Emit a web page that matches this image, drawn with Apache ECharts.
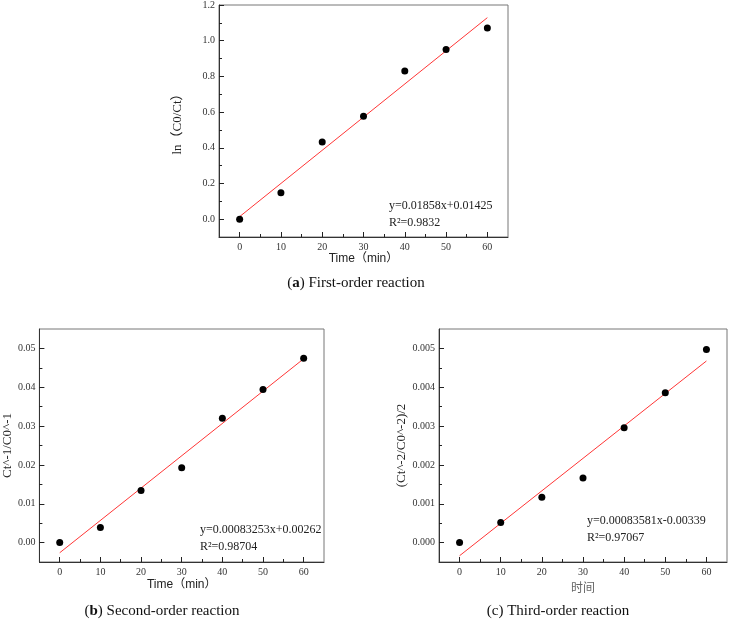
<!DOCTYPE html>
<html>
<head>
<meta charset="utf-8">
<script src="https://cdn.jsdelivr.net/npm/echarts@6/dist/echarts.min.js"></script>
<style>html,body{margin:0;padding:0;background:#fff}#c{width:731px;height:620px}</style>
</head>
<body>
<div id="c"></div>
<script>
// ---- data ----
const timeMin = [0, 10, 20, 30, 40, 50, 60];
const firstOrder = [0.0, 0.148, 0.433, 0.577, 0.830, 0.951, 1.071];
const secondOrder = [0.0, 0.0039, 0.0134, 0.0193, 0.0320, 0.0394, 0.0475];
const thirdOrder = [0.0, 0.000515, 0.00117, 0.00166, 0.00296, 0.00386, 0.00497];
const fitX = [0, 60];
const fitFirst = [0.01425, 1.12905];
const fitSecond = [-0.00262, 0.04733];
const fitThird = [-0.000339, 0.004676];
const xTickLabels = [0, 10, 20, 30, 40, 50, 60];
const yTicksA = [0.0, 0.2, 0.4, 0.6, 0.8, 1.0, 1.2];
const yTicksB = [0.00, 0.01, 0.02, 0.03, 0.04, 0.05];
const yTicksC = [0.000, 0.001, 0.002, 0.003, 0.004, 0.005];
const eqA = ['y=0.01858x+0.01425', 'R²=0.9832'];
const eqB = ['y=0.00083253x+0.00262', 'R²=0.98704'];
const eqC = ['y=0.00083581x-0.00339', 'R²=0.97067'];

const SERIF = 'Liberation Serif, Noto Sans CJK SC';
const SANS = 'Liberation Sans, Noto Sans CJK SC';
const pair = (xs, ys) => xs.map((x, i) => [x, ys[i]]);

function xAxisOf(g, name, gap, nameStyle) {
  return {
    type: 'value', gridIndex: g, min: -5, max: 65, splitNumber: 7, z: 5,
    axisLine: { show: true, onZero: false, lineStyle: { color: '#333', width: 1 } },
    axisTick: { show: true, inside: true, length: 5, customValues: xTickLabels, lineStyle: { color: '#222', width: 1 } },
    minorTick: { show: true, splitNumber: 2, length: 3, lineStyle: { color: '#222', width: 1 } },
    axisLabel: { customValues: xTickLabels, fontFamily: SERIF, fontSize: 10, color: '#333', margin: 5 },
    splitLine: { show: false },
    name: name, nameLocation: 'middle', nameGap: gap, nameTextStyle: nameStyle
  };
}
function yAxisOf(g, min, max, ticks, dec, name, gap) {
  return {
    type: 'value', gridIndex: g, min: min, max: max, splitNumber: 6, z: 5,
    axisLine: { show: true, onZero: false, lineStyle: { color: '#333', width: 1 } },
    axisTick: { show: true, inside: true, length: 5, customValues: ticks, lineStyle: { color: '#222', width: 1 } },
    minorTick: { show: true, splitNumber: 2, length: 3, lineStyle: { color: '#222', width: 1 } },
    axisLabel: { customValues: ticks, fontFamily: SERIF, fontSize: 10, color: '#333', margin: 4,
      formatter: v => Number(v).toFixed(dec) },
    splitLine: { show: false },
    name: name, nameLocation: 'middle', nameGap: gap, nameRotate: 90,
    nameTextStyle: { fontFamily: SERIF, fontSize: 13, color: '#222' }
  };
}
const gridStyle = { show: true, borderColor: '#777', borderWidth: 1 };
const timeName = { fontFamily: SANS, fontSize: 12, color: '#222' };

function scatter(i, data) {
  return { type: 'scatter', xAxisIndex: i, yAxisIndex: i, data: data, symbolSize: 7,
    itemStyle: { color: '#000', opacity: 1 }, z: 3, silent: true };
}
function fit(i, data) {
  return { type: 'line', xAxisIndex: i, yAxisIndex: i, data: data, symbol: 'none',
    lineStyle: { color: '#ff3535', width: 1 }, z: 2, silent: true };
}
function eqText(x, y, lines) {
  return { type: 'text', left: x, top: y, style: { text: lines.join('\n'), fontFamily: SERIF, fontSize: 12,
    lineHeight: 16.5, fill: '#222' } };
}
function caption(cx, cy, letter, bold, rest) {
  return { type: 'text', x: cx, y: cy, style: {
    text: '(' + '{' + (bold ? 'b' : 'n') + '|' + letter + '}) ' + rest,
    fontFamily: SERIF, fontSize: 15, fill: '#111', align: 'center', verticalAlign: 'middle',
    rich: { b: { fontWeight: 'bold', fontFamily: SERIF, fontSize: 15, fill: '#111' },
            n: { fontFamily: SERIF, fontSize: 15, fill: '#111' } } } };
}

const chart = echarts.init(document.getElementById('c'), null, { renderer: 'canvas' });
chart.setOption({
  animation: false,
  grid: [
    Object.assign({ left: 219, top: 5, width: 289, height: 232 }, gridStyle),
    Object.assign({ left: 37, top: 329, width: 287, height: 233 }, gridStyle),
    Object.assign({ left: 439, top: 329, width: 288, height: 233 }, gridStyle)
  ],
  xAxis: [
    xAxisOf(0, 'Time（min）', 16, timeName),
    xAxisOf(1, 'Time（min）', 17, timeName),
    xAxisOf(2, '时间', 19, { fontFamily: 'Noto Sans CJK SC', fontSize: 12, color: '#666' })
  ],
  yAxis: [
    yAxisOf(0, -0.1, 1.2, yTicksA, 1, 'ln（C0/Ct）', 35),
    yAxisOf(1, -0.005, 0.055, yTicksB, 2, 'Ct^-1/C0^-1', 23),
    yAxisOf(2, -0.0005, 0.0055, yTicksC, 3, '(Ct^-2/C0^-2)/2', 31)
  ],
  series: [
    fit(0, pair(fitX, fitFirst)), scatter(0, pair(timeMin, firstOrder)),
    fit(1, pair(fitX, fitSecond)), scatter(1, pair(timeMin, secondOrder)),
    fit(2, pair(fitX, fitThird)), scatter(2, pair(timeMin, thirdOrder))
  ],
  graphic: [
    eqText(389, 198, eqA),
    eqText(200, 522, eqB),
    eqText(587, 513, eqC),
    caption(356, 283, 'a', true, 'First-order reaction'),
    caption(162, 611, 'b', true, 'Second-order reaction'),
    caption(558, 611, 'c', false, 'Third-order reaction')
  ]
});
</script>
</body>
</html>
